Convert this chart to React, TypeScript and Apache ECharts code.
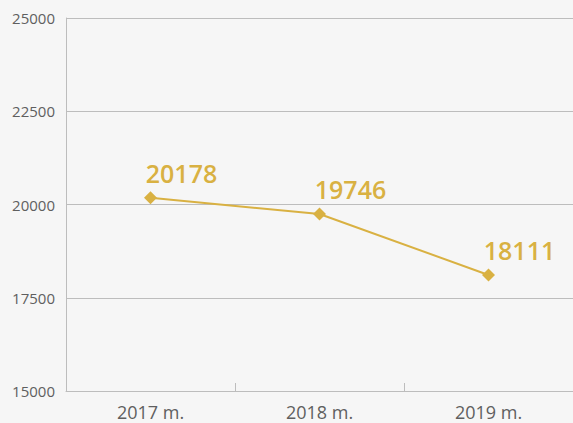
import React, { useEffect, useRef } from "react";
import * as echarts from "echarts";

const categories = ["2017 m.", "2018 m.", "2019 m."];
const values = [20178, 19746, 18111];
const yMin = 15000;
const yMax = 25000;
const yInterval = 2500;

export default function App() {
  const ref = useRef<HTMLDivElement>(null);
  useEffect(() => {
    document.body.style.margin = "0";
    const chart = echarts.init(ref.current!, null, { renderer: "svg" });
    chart.setOption({
      animation: false,
      backgroundColor: "#f6f6f6",
      textStyle: { fontFamily: "Open Sans" },
      grid: { left: 66, right: 0, top: 18, bottom: 32 },
      xAxis: {
        type: "category",
        data: categories,
        boundaryGap: true,
        axisLine: { show: true, lineStyle: { color: "#bdbdbd", width: 1 } },
        axisTick: { show: true, inside: true, length: 8, lineStyle: { color: "#bdbdbd" } },
        axisLabel: { color: "#5f5f5f", fontSize: 18, margin: 12 },
      },
      yAxis: {
        type: "value",
        min: yMin,
        max: yMax,
        interval: yInterval,
        axisLine: { show: true, lineStyle: { color: "#bdbdbd", width: 1 } },
        axisTick: { show: false },
        splitLine: { show: true, lineStyle: { color: "#bdbdbd", width: 1 } },
        axisLabel: {
          color: "#5f5f5f",
          fontSize: 15,
          margin: 11,
          formatter: (v: number) => String(v),
        },
      },
      series: [
        {
          type: "line",
          data: values,
          symbol: "diamond",
          symbolSize: 13,
          itemStyle: { color: "#d9b142" },
          lineStyle: { color: "#d9b142", width: 2 },
          label: {
            show: true,
            position: "top",
            offset: [31, -1],
            color: "#d9b142",
            fontSize: 25,
            fontWeight: 600,
          },
        },
      ],
    });
    return () => chart.dispose();
  }, []);
  return <div ref={ref} style={{ width: 573, height: 423 }} />;
}
